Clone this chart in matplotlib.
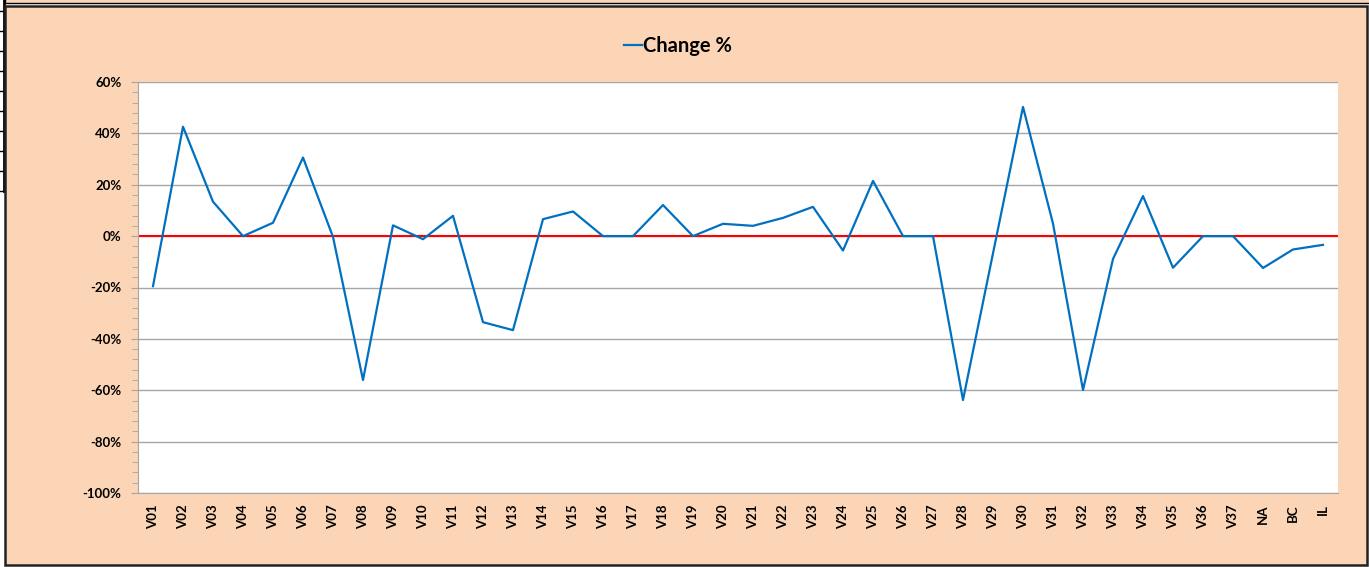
import numpy as np
import matplotlib.pyplot as plt
from matplotlib.patches import Rectangle
from matplotlib.lines import Line2D
from matplotlib.ticker import MultipleLocator, PercentFormatter

labels = ['V01', 'V02', 'V03', 'V04', 'V05', 'V06', 'V07', 'V08', 'V09', 'V10',
          'V11', 'V12', 'V13', 'V14', 'V15', 'V16', 'V17', 'V18', 'V19', 'V20',
          'V21', 'V22', 'V23', 'V24', 'V25', 'V26', 'V27', 'V28', 'V29', 'V30',
          'V31', 'V32', 'V33', 'V34', 'V35', 'V36', 'V37', 'NA', 'BC', 'IL']
change = [-19.5, 42.6, 13.4, 0.0, 5.2, 30.6, -0.3, -56.0, 4.2, -1.2,
          7.9, -33.5, -36.6, 6.6, 9.6, 0.0, 0.0, 12.1, 0.0, 4.8,
          4.0, 7.1, 11.4, -5.6, 21.5, 0.0, 0.0, -63.8, -6.7, 50.3,
          4.9, -59.9, -8.9, 15.6, -12.3, 0.0, 0.0, -12.4, -5.2, -3.4]

peach = '#FBD5B5'
blue = '#0070C0'
grid_c = '#A6A6A6'
W, H = 1369, 567

plt.rcParams['font.family'] = ['Lato', 'DejaVu Sans']
plt.rcParams['axes.unicode_minus'] = False

fig = plt.figure(figsize=(W / 100, H / 100), dpi=100)
fig.patch.set_facecolor('white')

def px(x, y):
    # pixel coords (from top-left) -> figure fraction
    return x / W, 1 - y / H

# bits of the spreadsheet showing behind the chart
fig.patches.append(Rectangle(px(5.5, 2.5), 1400 / W, 10 / H, transform=fig.transFigure,
                             facecolor=peach, edgecolor='black', linewidth=1, zorder=-6))
fig.lines.append(Line2D([3.8 / W] * 2, [1, 1 - 191 / H], transform=fig.transFigure,
                        color='black', linewidth=2, zorder=-6))
for ty in range(11, 192, 20):
    fig.lines.append(Line2D([0, 3.8 / W], [1 - ty / H] * 2, transform=fig.transFigure,
                            color='black', linewidth=1, zorder=-6))

# chart frame, kept under the axes
fig.patches.append(Rectangle(px(5.5, 565), 1361.5 / W, 559.5 / H,
                             transform=fig.transFigure, facecolor=peach,
                             edgecolor='#222222', linewidth=1.8, zorder=-5))

ax = fig.add_axes([138 / W, 74 / H, 1200 / W, 411 / H])
ax.set_zorder(2)
ax.set_facecolor('white')

x = np.arange(len(labels))
ax.axhline(0, color='red', linewidth=1.5, zorder=2)
ax.plot(x, change, color=blue, linewidth=1.6, zorder=3, label='Change %')

ax.set_xlim(-0.5, len(labels) - 0.5)
ax.set_ylim(-100, 60)
ax.yaxis.set_major_locator(MultipleLocator(20))
ax.yaxis.set_minor_locator(MultipleLocator(4))
ax.yaxis.set_major_formatter(PercentFormatter(decimals=0))
ax.grid(axis='y', which='major', color=grid_c, linewidth=1)
ax.set_axisbelow(True)

ax.set_xticks(x)
ax.set_xticklabels(labels, rotation=90, fontsize=9.5, fontweight='bold')
ax.tick_params(axis='x', length=0, pad=8)
ax.tick_params(axis='y', which='major', length=5, color=grid_c, labelsize=9.5, pad=7)
ax.tick_params(axis='y', which='minor', length=4, color=grid_c)
for lbl in ax.get_yticklabels():
    lbl.set_fontweight('bold')

for side in ['top', 'right']:
    ax.spines[side].set_visible(False)
for side in ['left', 'bottom']:
    ax.spines[side].set_color(grid_c)

leg = fig.legend(loc='center', bbox_to_anchor=px(678, 46),
                 frameon=False, handlelength=0.9, handletextpad=0.05,
                 prop={'weight': 'bold', 'size': 14.5})

fig.savefig('out.png', dpi=100, facecolor=fig.get_facecolor())
